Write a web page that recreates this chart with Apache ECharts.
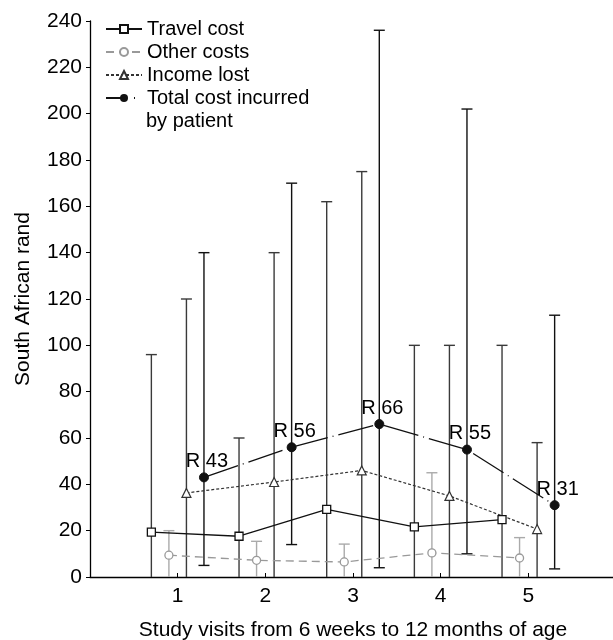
<!DOCTYPE html>
<html>
<head>
<meta charset="utf-8">
<script src="https://cdn.jsdelivr.net/npm/echarts@6/dist/echarts.min.js"></script>
<style>html,body{margin:0;padding:0;background:#fff}#chart{width:613px;height:640px}</style>
</head>
<body>
<div id="chart"></div>
<script>
// ---- data ----
const visits = [1, 2, 3, 4, 5];
const travelCost = [19.4, 17.6, 29.2, 21.6, 24.8];
const travelHigh = [96, 60, 162, 100, 100];
const travelLow = [0, 0, 0, 0, 0];
const otherCosts = [9.4, 7.2, 6.5, 10.4, 8.2];
const otherHigh = [20, 15.4, 14.2, 45, 17];
const otherLow = [0, 0, 0, 0, 0];
const incomeLost = [36.3, 41, 46, 35, 20.7];
const incomeHigh = [120, 140, 175, 100, 58];
const incomeLow = [0, 0, 0, 0, 0];
const totalCost = [43, 56, 66, 55, 31];
const totalHigh = [140, 170, 236, 202, 113];
const totalLow = [5, 14, 4, 10, 3.5];
const yTickValues = [0, 20, 40, 60, 80, 100, 120, 140, 160, 180, 200, 220, 240];
const seriesNames = ['Travel cost', 'Other costs', 'Income lost', 'Total cost incurred'];

// horizontal dodge for each series (layout, not data)
const dodge = [-0.3, -0.1, 0.1, 0.3];
const FONT = "'Liberation Sans', Arial, Helvetica, sans-serif";

function pts(vals, k) { return visits.map((v, i) => [v + dodge[k], vals[i]]); }
function bars(lo, hi, k) { return visits.map((v, i) => [v + dodge[k], lo[i], hi[i]]); }

function errorBar(color) {
  return function (params, api) {
    const x = api.value(0), lo = api.value(1), hi = api.value(2);
    const pH = api.coord([x, hi]);
    const pL = api.coord([x, lo]);
    const half = 5.5;
    const st = { stroke: color, lineWidth: 1.4 };
    const ch = [
      { type: 'line', shape: { x1: pH[0], y1: pH[1], x2: pL[0], y2: pL[1] }, style: st },
      { type: 'line', shape: { x1: pH[0] - half, y1: pH[1], x2: pH[0] + half, y2: pH[1] }, style: st }
    ];
    if (lo > 0) ch.push({ type: 'line', shape: { x1: pL[0] - half, y1: pL[1], x2: pL[0] + half, y2: pL[1] }, style: st });
    return { type: 'group', children: ch };
  };
}

const chart = echarts.init(document.getElementById('chart'), null, { renderer: 'canvas' });
const option = {
  animation: false,
  backgroundColor: '#fff',
  textStyle: { fontFamily: FONT, color: '#000' },
  grid: { left: 90, right: -3, top: 21, bottom: 63, containLabel: false, outerBoundsMode: 'none' },
  legend: {
    orient: 'vertical', left: 105, top: 19, padding: 0,
    itemWidth: 36, itemHeight: 10, itemGap: 3,
    data: [
      { name: seriesNames[0] },
      { name: seriesNames[1] },
      { name: seriesNames[2] },
      { name: seriesNames[3], lineStyle: { type: [16, 12, 1, 20] } }
    ],
    textStyle: { fontFamily: FONT, fontSize: 20, color: '#000', lineHeight: 20 }
  },
  graphic: [{ type: 'text', left: 146, top: 111, style: { text: 'by patient', font: '20px ' + FONT, fill: '#000' } }],
  xAxis: {
    type: 'value', min: 0, max: 6,
    name: 'Study visits from 6 weeks to 12 months of age',
    nameLocation: 'middle', nameGap: 43,
    nameTextStyle: { fontSize: 21, color: '#000', fontFamily: FONT },
    axisLine: { lineStyle: { color: '#000', width: 1.3 } },
    axisTick: { inside: true, length: 4, customValues: visits, lineStyle: { color: '#000' } },
    axisLabel: { customValues: visits, fontSize: 21, color: '#000', margin: 9, fontFamily: FONT },
    splitLine: { show: false }
  },
  yAxis: {
    type: 'value', min: 0, max: 240, interval: 20,
    name: 'South African rand', nameLocation: 'middle', nameGap: 56, nameRotate: 90,
    nameTextStyle: { fontSize: 21, color: '#000', fontFamily: FONT },
    axisLine: { show: true, lineStyle: { color: '#000', width: 1.3 } },
    axisTick: { show: true, length: 4, lineStyle: { color: '#000' } },
    axisLabel: { fontSize: 21, color: '#000', margin: 8, fontFamily: FONT },
    splitLine: { show: false }
  },
  series: [
    { type: 'custom', name: 'eb0', renderItem: errorBar('#3a3a3a'), data: bars(travelLow, travelHigh, 0), encode: { x: 0, y: [1, 2] }, z: 2, silent: true },
    { type: 'custom', name: 'eb1', renderItem: errorBar('#aaaaaa'), data: bars(otherLow, otherHigh, 1), encode: { x: 0, y: [1, 2] }, z: 2, silent: true },
    { type: 'custom', name: 'eb2', renderItem: errorBar('#3a3a3a'), data: bars(incomeLow, incomeHigh, 2), encode: { x: 0, y: [1, 2] }, z: 2, silent: true },
    { type: 'custom', name: 'eb3', renderItem: errorBar('#111111'), data: bars(totalLow, totalHigh, 3), encode: { x: 0, y: [1, 2] }, z: 2, silent: true },
    {
      type: 'line', name: seriesNames[0], data: pts(travelCost, 0), z: 3,
      symbol: 'rect', symbolSize: 8, showAllSymbol: true,
      lineStyle: { color: '#111', width: 1.3, type: 'solid' },
      itemStyle: { color: '#fff', borderColor: '#111', borderWidth: 1.3 }
    },
    {
      type: 'line', name: seriesNames[1], data: pts(otherCosts, 1), z: 3,
      symbol: 'circle', symbolSize: 8,
      lineStyle: { color: '#999', width: 1.3, type: [8, 5] },
      itemStyle: { color: '#fff', borderColor: '#999', borderWidth: 1.3 }
    },
    {
      type: 'line', name: seriesNames[2], data: pts(incomeLost, 2), z: 3,
      symbol: 'triangle', symbolSize: 9,
      lineStyle: { color: '#333', width: 1.2, type: [3, 2] },
      itemStyle: { color: '#fff', borderColor: '#333', borderWidth: 1.2 }
    },
    {
      type: 'line', name: seriesNames[3], data: pts(totalCost, 3), z: 4,
      symbol: 'circle', symbolSize: 9,
      lineStyle: { color: '#111', width: 1.3, type: [36, 5, 1, 5] },
      itemStyle: { color: '#111', borderColor: '#111' },
      label: {
        show: true, position: 'top', distance: 1, offset: [3, 0],
        formatter: p => 'R ' + p.value[1],
        fontSize: 20, color: '#000', fontFamily: FONT
      }
    }
  ]
};
chart.setOption(option);
</script>
</body>
</html>
